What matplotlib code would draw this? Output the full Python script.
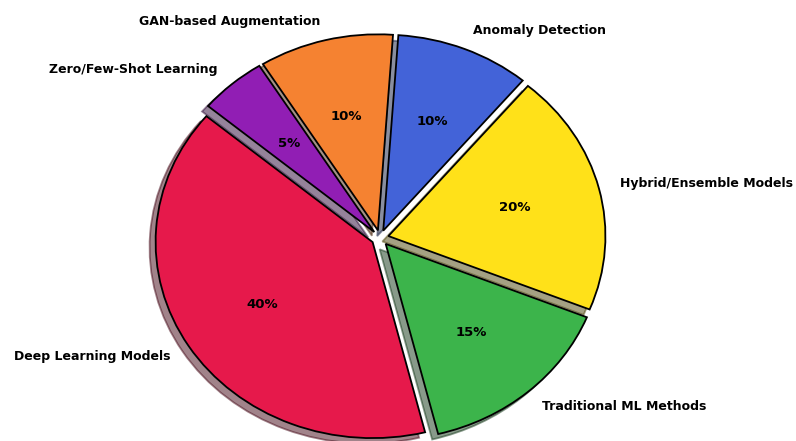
import matplotlib
matplotlib.use("Agg")
import matplotlib.pyplot as plt

# share of approaches
labels = ["Deep Learning Models", "Traditional ML Methods", "Hybrid/Ensemble Models",
          "Anomaly Detection", "GAN-based Augmentation", "Zero/Few-Shot Learning"]
sizes = [40, 15, 20, 10, 10, 5]
colors = ["#e6194b", "#3cb44b", "#ffe119", "#4363d8", "#f58231", "#911eb4"]
explode = [0.04] * len(sizes)

fig = plt.figure(figsize=(7.96, 4.41), dpi=100)
ax = fig.add_axes([0, 0, 1, 1])

wedges, texts, autotexts = ax.pie(
    sizes, labels=labels, colors=colors, explode=explode,
    autopct="%1.0f%%", startangle=140, shadow=True,
    wedgeprops={"edgecolor": "black", "linewidth": 1.3},
    textprops={"fontsize": 9, "fontweight": "bold"},
)
for t in autotexts:
    t.set_fontsize(9.5)

# slightly wider than tall
ax.set_aspect("auto")
ax.set_xlim(-1.751, 1.917)
ax.set_ylim(-1.036, 1.214)

fig.savefig("out.png", dpi=100)
